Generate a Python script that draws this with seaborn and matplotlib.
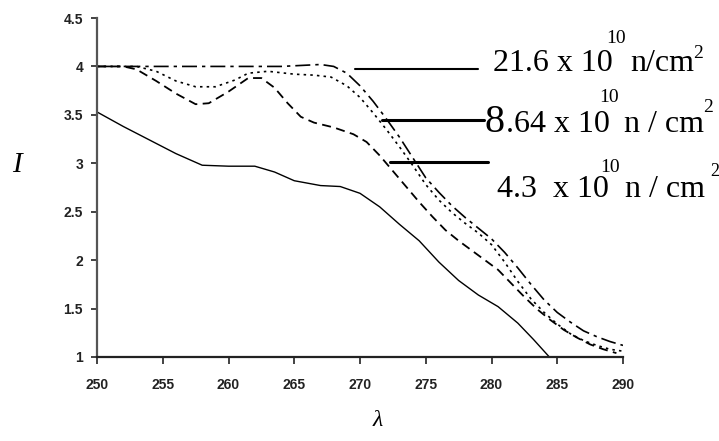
import matplotlib
matplotlib.use("Agg")
from matplotlib import pyplot as plt
from matplotlib.ticker import FuncFormatter
import seaborn as sns

x_solid = [250, 252, 254, 256, 258, 260, 262, 263.5, 265, 267, 268.5, 270, 271.5,
           273, 274.5, 276, 277.5, 279, 280.5, 282, 283.2, 284.4]
y_solid = [3.53, 3.38, 3.24, 3.10, 2.98, 2.97, 2.97, 2.91, 2.82, 2.77, 2.76, 2.69, 2.55,
           2.37, 2.20, 1.98, 1.79, 1.64, 1.52, 1.35, 1.18, 1.00]

# 21.6 x 10^10 n/cm^2
x_216 = [250, 252, 255, 258, 261, 264, 267, 268, 269, 270, 271, 272, 273, 274, 275,
         276, 277, 278, 279, 280, 281, 282, 283, 284, 285, 286, 287, 288, 289, 290]
y_216 = [4.0, 4.0, 4.0, 4.0, 4.0, 4.0, 4.02, 4.0, 3.93, 3.80, 3.64, 3.46, 3.27, 3.06, 2.85,
         2.70, 2.56, 2.44, 2.33, 2.22, 2.08, 1.92, 1.75, 1.59, 1.46, 1.36, 1.27, 1.21, 1.16, 1.12]

# 8.64 x 10^10 n/cm^2
x_864 = [250, 253, 254.5, 256, 257.5, 259, 260.5, 261.5, 263, 265, 266.5, 267.8, 269, 270,
         271, 272, 273, 274, 275, 276, 277, 278, 279, 280, 281, 282, 283, 284, 285, 286,
         287, 288, 289, 290]
y_864 = [4.0, 4.0, 3.95, 3.85, 3.79, 3.79, 3.86, 3.93, 3.95, 3.92, 3.91, 3.89, 3.80, 3.68,
         3.52, 3.35, 3.17, 2.98, 2.78, 2.62, 2.49, 2.38, 2.28, 2.16, 1.98, 1.78, 1.60, 1.46,
         1.34, 1.24, 1.17, 1.12, 1.08, 1.06]

# 4.3 x 10^10 n/cm^2
x_43 = [250, 252, 253, 254.5, 256, 257.5, 258.5, 260, 261.5, 262.5, 263.5, 264.5, 265.5,
        266.5, 268, 269.5, 270.5, 271.5, 272.5, 273.5, 274.5, 275.5, 276.5, 277.5, 278.5,
        279.5, 280.5, 281.5, 282.5, 283.5, 284.5, 285.5, 286.5, 287.5, 288.5, 289.5]
y_43 = [4.0, 4.0, 3.97, 3.85, 3.72, 3.61, 3.62, 3.74, 3.88, 3.88, 3.78, 3.62, 3.48,
        3.42, 3.37, 3.30, 3.22, 3.08, 2.92, 2.76, 2.60, 2.45, 2.31, 2.20, 2.10,
        2.00, 1.90, 1.76, 1.62, 1.49, 1.38, 1.28, 1.20, 1.13, 1.08, 1.04]

y_ticks = [1, 1.5, 2, 2.5, 3, 3.5, 4, 4.5]
x_ticks = [250, 255, 260, 265, 270, 275, 280, 285, 290]

sns.set_style("ticks")
plt.rcParams["font.family"] = ["Liberation Sans", "DejaVu Sans"]

fig = plt.figure(figsize=(7.19, 4.41), dpi=100)
ax = fig.add_axes([97 / 719, 84 / 441, 526 / 719, 339 / 441])

sns.lineplot(x=x_solid, y=y_solid, ax=ax, color="black", lw=1.0, linestyle="-")
sns.lineplot(x=x_216, y=y_216, ax=ax, color="black", lw=1.2, linestyle=(0, (9, 3, 2, 3)))
sns.lineplot(x=x_864, y=y_864, ax=ax, color="black", lw=1.2, linestyle=(0, (1.5, 2.5)))
sns.lineplot(x=x_43, y=y_43, ax=ax, color="black", lw=1.3, linestyle=(0, (5, 3)))

ax.set_xlim(250, 290)
ax.set_ylim(1, 4.5)
ax.set_xticks(x_ticks)
ax.set_yticks(y_ticks)
ax.yaxis.set_major_formatter(FuncFormatter(lambda v, p: f"{v:g}"))
ax.set_xlabel("")
ax.set_ylabel("")
sns.despine(ax=ax)
ax.spines["left"].set_color("#555555")
ax.spines["left"].set_linewidth(1.6)
ax.spines["bottom"].set_color("#222222")
ax.spines["bottom"].set_linewidth(1.6)
ax.tick_params(axis="x", length=5, width=1.2, pad=10, labelsize=10, colors="#222222")
ax.tick_params(axis="y", length=4, width=1.2, pad=6, labelsize=10, colors="#222222")
for lab in ax.get_xticklabels() + ax.get_yticklabels():
    lab.set_fontweight("bold")

# axis titles
serif = ["Liberation Serif", "DejaVu Serif"]
fig.text(17 / 719, 1 - 165 / 441, "I", family=serif, style="italic", fontsize=21,
         ha="center", va="center", color="black")
fig.text(378 / 719, 1 - 421 / 441, "λ", family=serif, style="italic", fontsize=17,
         ha="center", va="center", color="black")

# annotation pointer lines (data coords)
ax.plot([269.6, 279.0], [3.97, 3.97], color="black", lw=1.5, clip_on=False)
ax.plot([271.7, 279.4], [3.45, 3.45], color="black", lw=2.2, clip_on=False)
ax.plot([272.3, 279.7], [3.01, 3.01], color="black", lw=2.2, clip_on=False)


def put(px, py, s, size):
    fig.text(px / 719, 1 - py / 441, s, family=serif, fontsize=size,
             ha="left", va="baseline", color="black")


# 21.6 x 10^10 n/cm^2
put(493, 71, "21.6 x 10", 23)
put(606, 43, "10", 14)
put(630, 71, "n/cm", 23)
put(693, 58, "2", 14)
# 8.64 x 10^10 n / cm^2
put(485, 132, "8", 29)
put(506, 132, ".64 x 10", 23)
put(599, 102, "10", 14)
put(624, 132, "n / cm", 23)
put(703, 112, "2", 14)
# 4.3 x 10^10 n / cm^2
put(497, 197, "4.3  x 10", 23)
put(600, 172, "10", 14)
put(625, 197, "n / cm", 23)
put(710, 176, "2", 13)

fig.savefig("out.png", dpi=100)
